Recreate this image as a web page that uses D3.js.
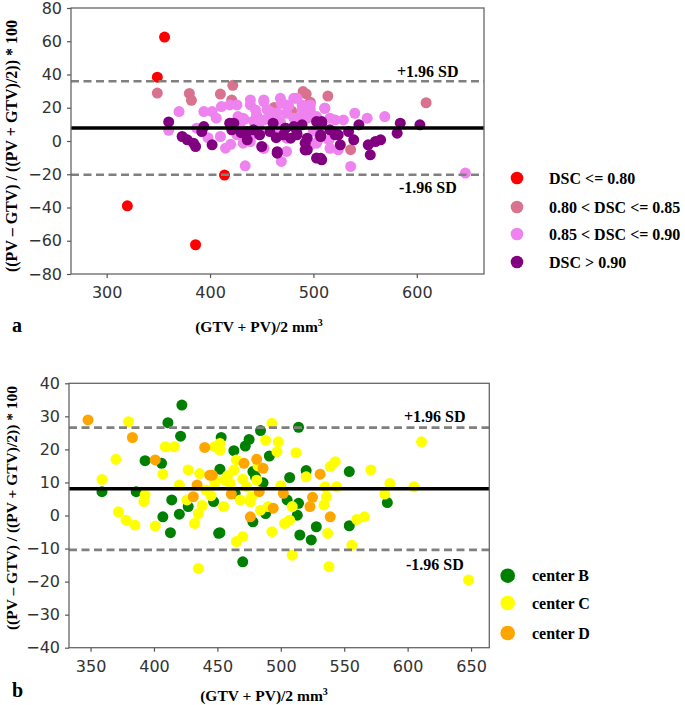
<!DOCTYPE html>
<html><head><meta charset="utf-8">
<script src="https://cdn.jsdelivr.net/npm/d3@7"></script>
<style>
html,body{margin:0;padding:0;background:#fff;}
svg{display:block;}
.tick text{font-family:"DejaVu Sans",sans-serif;font-size:16px;fill:#333;}
.serif{font-family:"Liberation Serif","Times New Roman",serif;font-weight:bold;fill:#000;}
</style></head>
<body>
<svg id="c" width="685" height="705"></svg>
<script>
// ---------- Panel a data: [mean volume, % difference] ----------
const dscLow = [[356,62.5],[349,38.4],[320,-39],[386,-62.4],[414,-20.5]];
const dscMid = [[349,28.8],[380,28.6],[382,24.5],[410,28.2],[422,33.5],[421,24.6],[462,20.2],[479,18],[493,28.3],[497,23.3],[514,27],[609,23],[536,-5.2],[490,29.7]];
const dscHigh = [[370,17.7],[394,17.7],[402,17.7],[406,13.7],[411,20.7],[419,21.7],[427,14.7],[439,21.7],[452,23.7],[445,15.7],[458,15.7],[469,22.7],[481,25.7],[489,21.7],[497,18.7],[387,7.7],[410,2.7],[415,-4.3],[432,-1.3],[452,-4.3],[434,-14.9],[469,-12.3],[474,-6.3],[448,4.7],[468,4.7],[439,2.7],[426,4.7],[429,8.7],[461,10.7],[484,13.7],[474,16.7],[360,6.4],[442,12],[455,19],[465,17],[476,21],[486,10],[511,19.7],[521,12.7],[529,12.7],[540,16.7],[552,13.7],[569,14.7],[503,-1.3],[515,0.7],[524,-5.3],[536,-15.3],[647,-19.3],[508,10.7],[433,13],[447,9],[500,6],[490,15],[398,2],[420,-2],
  [426,21.7],[439,24.7],[452,24.7],[444,18.7],[458,17.7],[468,25.7],[474,21.7],[484,25.7],[489,18.7],[497,21.7],[503,14.7],[511,19.7],[516,13.7],[432,13.7],[452,12.7],[468,11.7],[481,13.7],[494,13.7],[426,3.7],[439,-0.3],[452,-4.4],[474,1.7],[497,-2.4],[516,-4.4],[519,5.6],[506,1.7]];
const dscTop = [[360,11.5],[373,2.7],[378,0.7],[384,-1.3],[386,-3.3],[394,8.7],[392,5.7],[402,-2.3],[419,10.7],[421,6.7],[436,0.7],[442,6.7],[450,-3.3],[465,-7.3],[473,7.7],[478,1.7],[484,4.7],[492,-1.3],[494,-5.3],[503,11.7],[489,9.7],[458,5.7],[471,3.7],[503,-10.3],[508,11.7],[507,2.7],[508,-11.3],[516,6.7],[524,3.7],[526,-2.3],[534,5.7],[539,0.7],[544,9.7],[553,-2.3],[555,-8.3],[560,-0.3],[565,0.7],[581,4.7],[584,10.7],[603,9.7],[430,5],[464,2],
  [423,10.7],[436,5.6],[448,3.7],[461,10.7],[473,7.7],[481,8.7],[484,3.7],[494,1.7],[508,10.7],[507,3.7],[465,-6.4],[492,-5.4],[507,-10.4],[521,3.7]];
const meanA = 7.8, upperA = 35.9, lowerA = -20.3;
const xTicksA = [300,400,500,600];
const yTicksA = [-80,-60,-40,-20,0,20,40,60,80];
const legendA = ["DSC <= 0.80","0.80 < DSC <= 0.85","0.85 < DSC <= 0.90","DSC > 0.90"];
const colorsA = ["#ff0000","#d8728f","#ee82ee","#800080"];

// ---------- Panel b data ----------
const centerB = [[422,33.4],[411,28.1],[421,24],[393,16.6],[406,15.8],[359,7.2],[386,7.2],[414,4.7],[420,0.4],[407,-0.4],[413,-5.2],[451,-5.4],[427,2.7],[447,4.2],[514,26.7],[484,25.7],[475,23],[472,21],[463,19.6],[453,23.6],[491,18],[452,14],[478,13.3],[480,11.7],[507,11.5],[520,13.6],[554,13.3],[486,9.9],[505,4.7],[514,3.7],[464,6.7],[488,0.6],[513,0.1],[478,-1.9],[528,-3.4],[452,-5.2],[515,-5.9],[524,-7.4],[470,-14],[554,-3.1],[584,3.9]];
const centerC = [[380,28.4],[370,17],[359,10.9],[409,20.8],[416,20.8],[407,12.5],[393,6.2],[392,4.2],[372,1.1],[378,-1.4],[385,-2.9],[401,-3.2],[420,9.2],[427,13.8],[436,12.7],[426,4.7],[435,0.6],[432,-2.4],[448,20.8],[435,-16],[441,7.7],[449,10.7],[493,27.9],[498,22.3],[497,19.3],[512,19],[488,22.8],[452,21.8],[452,19.8],[465,16.8],[463,13.8],[456,10.7],[448,9.7],[460,9.7],[473,8.7],[468,4.7],[455,2.7],[476,4.2],[490,2.7],[509,2.7],[503,-2.4],[507,-1.4],[470,-6.4],[465,-7.9],[493,-4.9],[537,-5.4],[509,-12],[538,-15.5],[534,3.2],[536,5.7],[535,8.7],[544,8.7],[539,14.8],[543,16.3],[520,11.7],[481,10.7],[477,5.7],[484,1.6],[611,22.3],[571,13.8],[586,9.7],[605,8.7],[582,6.5],[560,-1.2],[566,-0.4],[556,-9],[648,-19.5],[445,6],[438,3],[458,12],[470,11],[482,15],[500,9]];
const centerD = [[348,28.9],[383,23.6],[401,16.8],[440,20.6],[444,12.2],[434,9.2],[431,5.7],[471,15.8],[481,17],[486,14.3],[446,12.2],[461,6.5],[483,7.2],[502,6.7],[531,12.5],[523,2.7],[525,5.5],[476,-0.4],[494,2.2],[539,-0.4]];
const meanB = 8.1, upperB = 26.6, lowerB = -10.4;
const xTicksB = [350,400,450,500,550,600,650];
const yTicksB = [-40,-30,-20,-10,0,10,20,30,40];
const legendB = ["center B","center C","center D"];
const colorsB = ["#008000","#ffff00","#ffa500"];

const yLabel = "((PV \u2013 GTV)  / ((PV + GTV)/2)) * 100";
const xLabel = "(GTV + PV)/2 mm";

const svg = d3.select("#c");

function panel(cfg){
  const g = svg.append("g");
  const x = d3.scaleLinear().domain(cfg.xDom).range([cfg.left, cfg.right]);
  const y = d3.scaleLinear().domain(cfg.yDom).range([cfg.bottom, cfg.top]);
  cfg.series.forEach((s,i)=>{
    g.append("g").selectAll("circle").data(s).join("circle")
      .attr("cx",d=>x(d[0])).attr("cy",d=>y(d[1])).attr("r",cfg.r)
      .attr("fill",cfg.colors[i]);
  });
  [cfg.upper,cfg.lower].forEach(v=>{
    g.append("line").attr("x1",cfg.left).attr("x2",cfg.right)
      .attr("y1",y(v)).attr("y2",y(v))
      .attr("stroke","#808080").attr("stroke-width",2.6).attr("stroke-dasharray","8,4.5");
  });
  g.append("line").attr("x1",cfg.left).attr("x2",cfg.right)
    .attr("y1",y(cfg.mean)).attr("y2",y(cfg.mean))
    .attr("stroke","#000").attr("stroke-width",3.6);
  g.append("rect").attr("x",cfg.left).attr("y",cfg.top)
    .attr("width",cfg.right-cfg.left).attr("height",cfg.bottom-cfg.top)
    .attr("fill","none").attr("stroke","#666").attr("stroke-width",1.3);
  const xa = g.append("g").attr("transform",`translate(0,${cfg.bottom})`)
    .call(d3.axisBottom(x).tickValues(cfg.xTicks).tickSize(4).tickPadding(9).tickFormat(d3.format("d")));
  const ya = g.append("g").attr("transform",`translate(${cfg.left},0)`)
    .call(d3.axisLeft(y).tickValues(cfg.yTicks).tickSize(4).tickPadding(5).tickFormat(d3.format("d")));
  [xa,ya].forEach(a=>{a.select(".domain").remove(); a.selectAll(".tick line").attr("stroke","#555").attr("stroke-width",1.2);});
  g.append("text").attr("class","serif").attr("x",cfg.sdX).attr("y",y(cfg.upper)+cfg.upOff)
    .attr("font-size",16).text("+1.96 SD");
  g.append("text").attr("class","serif").attr("x",cfg.sdX+2).attr("y",y(cfg.lower)+cfg.lowOff)
    .attr("font-size",16).text("-1.96 SD");
  g.append("text").attr("class","serif").attr("font-size",cfg.ylFs)
    .attr("text-anchor","middle").attr("transform",`translate(17,${cfg.ylY}) rotate(-90)`).text(yLabel);
  const xl = g.append("text").attr("class","serif").attr("font-size",15.5)
    .attr("text-anchor","middle").attr("x",cfg.xlX).attr("y",cfg.xlY).text(xLabel);
  xl.append("tspan").attr("dy",-6).attr("font-size",10).text("3");
  g.append("text").attr("class","serif").attr("font-size",20).attr("x",12).attr("y",cfg.tagY).text(cfg.tag);
  cfg.legend.forEach((t,i)=>{
    g.append("circle").attr("cx",cfg.lgX).attr("cy",cfg.lgY[i]).attr("r",cfg.lgR).attr("fill",cfg.lgColors[i]);
    g.append("text").attr("class","serif").attr("font-size",16).attr("x",cfg.lgTX).attr("y",cfg.lgY[i]+5.5).text(t);
  });
}

panel({xDom:[265.5,665],yDom:[-80,80],left:71,right:484,top:8,bottom:274,r:5.5,
  series:[dscMid,dscHigh,dscTop,dscLow],colors:[colorsA[1],colorsA[2],colorsA[3],colorsA[0]],
  mean:meanA,upper:upperA,lower:lowerA,xTicks:xTicksA,yTicks:yTicksA,
  sdX:397,upOff:-4,lowOff:18,ylFs:16,ylY:146,xlX:259,xlY:332,tag:"a",tagY:332,
  legend:legendA,lgColors:colorsA,lgX:517,lgY:[178,207,234,262],lgR:6.3,lgTX:549});

panel({xDom:[333,664.4],yDom:[-40,40],left:69,right:489.3,top:383.3,bottom:647.7,r:5.5,
  series:[centerB,centerC,centerD],colors:colorsB,
  mean:meanB,upper:upperB,lower:lowerB,xTicks:xTicksB,yTicks:yTicksB,
  sdX:404,upOff:-6,lowOff:20.5,ylFs:15.5,ylY:508,xlX:264,xlY:701,tag:"b",tagY:697,
  legend:legendB,lgColors:colorsB,lgX:507.7,lgY:[575.7,603,633],lgR:7.3,lgTX:532});
</script>
</body></html>
